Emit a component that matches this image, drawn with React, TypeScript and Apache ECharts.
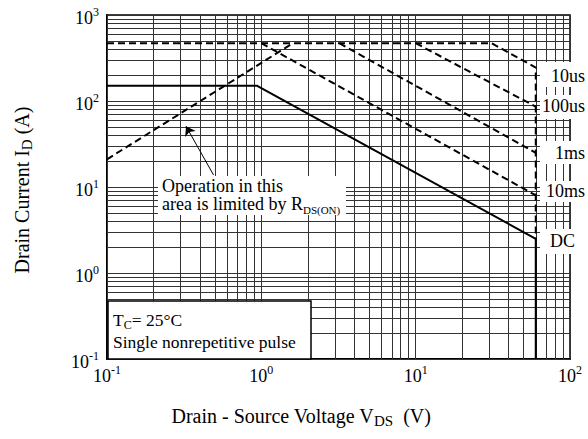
import React, { useEffect, useRef } from 'react';
import * as echarts from 'echarts';

const FONT = '"Liberation Serif", "Times New Roman", Times, serif';

// Grid-line layout (log decades and the 1..9 multipliers inside each decade)
const gridMultipliers = [1, 2, 3, 4, 5, 6, 7, 8, 9];
const xDecades = [0.1, 1, 10, 100];
const yDecades = [0.1, 1, 10, 100, 1000];

// Safe operating area boundaries [VDS (V), ID (A)]
const dcCurve = [[0.1, 150], [0.94, 150], [60, 2.5], [60, 0.1]];
const pulse10us = [[0.1, 470], [31, 470], [60, 245], [60, 2.5]];
const pulse100us = [[10, 470], [60, 86]];
const pulse1ms = [[3.2, 470], [60, 25]];
const pulse10ms = [[1, 470], [60, 8]];
const rdsOnLimit = [[0.1, 21], [1.6, 470]];
const arrowFrom = [0.49, 13.8];
const arrowTo = [0.325, 51];

const curveLabels = ['10us', '100us', '1ms', '10ms', 'DC'];

function gridValues(decades: number[]) {
  const out: number[] = [];
  for (let i = 0; i < decades.length - 1; i++) {
    for (const m of gridMultipliers) out.push(+(m * decades[i]).toPrecision(4));
  }
  out.push(decades[decades.length - 1]);
  return out;
}

const powRich = {
  b: { fontSize: 18, lineHeight: 18, padding: [6, 0, 0, 0], fontFamily: FONT, color: '#000' },
  e: { fontSize: 12, lineHeight: 14, verticalAlign: 'top', fontFamily: FONT, color: '#000' },
};
const powFmt = (v: number) => `{b|10}{e|${Math.round(Math.log10(v))}}`;

function txt(x: number, y: number, text: string, opts: any = {}) {
  const align = opts.align || 'left';
  const fs = opts.fontSize || 18;
  return {
    type: 'text',
    x,
    y,
    z: 60,
    rotation: opts.rotation || 0,
    style: {
      text,
      fill: '#000',
      font: `${fs}px ${FONT}`,
      fontSize: fs,
      fontFamily: FONT,
      align,
      textAlign: align,
      verticalAlign: 'middle',
      textVerticalAlign: 'middle',
      rich: opts.rich,
    },
  };
}

function box(x: number, y: number, w: number, h: number, stroke?: string) {
  return {
    type: 'rect',
    z: 50,
    shape: { x, y, width: w, height: h },
    style: { fill: '#fff', stroke: stroke || 'none', lineWidth: stroke ? 1.5 : 0 },
  };
}

// rich styles: main text + lowered subscript (lowered through top padding)
const subRich = (main: number, mainLH: number, sub: number, drop: number) => ({
  a: { fontSize: main, lineHeight: mainLH, fontFamily: FONT, color: '#000' },
  s: { fontSize: sub, lineHeight: sub, padding: [drop * 2, 0, 0, 0], fontFamily: FONT, color: '#000' },
});

export default function App() {
  const ref = useRef<HTMLDivElement>(null);

  useEffect(() => {
    if (!ref.current) return;
    const chart = echarts.init(ref.current, undefined, { renderer: 'svg' });

    const xGrid = gridValues(xDecades);
    const yGrid = gridValues(yDecades);

    const dashed = { color: '#000', width: 2, type: [7, 4] as any };
    const mk = (name: string, data: number[][], style: any) => ({
      name,
      type: 'line',
      data,
      symbol: 'none',
      showSymbol: false,
      z: 5,
      lineStyle: style,
      animation: false,
    });

    const option: any = {
      animation: false,
      backgroundColor: '#fff',
      grid: {
        left: 107,
        right: 18,
        top: 15,
        bottom: 80,
        show: true,
        borderColor: '#000',
        borderWidth: 1.5,
        backgroundColor: 'transparent',
      },
      xAxis: {
        type: 'log',
        logBase: 10,
        min: 0.1,
        max: 100,
        axisLine: { show: true, lineStyle: { color: '#000', width: 2 } },
        axisTick: { show: false },
        splitLine: { show: false },
        axisLabel: { margin: 5, formatter: powFmt, rich: powRich, color: '#000', fontFamily: FONT },
      },
      yAxis: {
        type: 'log',
        logBase: 10,
        min: 0.1,
        max: 1000,
        axisLine: { show: true, lineStyle: { color: '#000', width: 2 } },
        axisTick: { show: false },
        splitLine: { show: false },
        axisLabel: { margin: 8, formatter: powFmt, rich: powRich, color: '#000', fontFamily: FONT },
      },
      series: [
        {
          name: 'grid',
          type: 'line',
          data: [[0.1, 0.1]],
          symbol: 'none',
          z: 1,
          lineStyle: { opacity: 0 },
          markLine: {
            silent: true,
            symbol: ['none', 'none'],
            label: { show: false },
            lineStyle: { color: '#333', width: 1, type: 'solid' },
            emphasis: { disabled: true },
            animation: false,
            data: [
              ...xGrid.map((v) => ({ xAxis: v })),
              ...yGrid.map((v) => ({ yAxis: v })),
            ],
          },
        },
        mk('DC', dcCurve, { color: '#000', width: 2, type: 'solid' }),
        mk('10us', pulse10us, dashed),
        mk('100us', pulse100us, dashed),
        mk('1ms', pulse1ms, dashed),
        mk('10ms', pulse10ms, dashed),
        mk('RDS(ON) limit', rdsOnLimit, dashed),
        {
          name: 'arrow',
          type: 'line',
          data: [],
          z: 6,
          markLine: {
            silent: true,
            symbol: ['none', 'arrow'],
            symbolSize: 9,
            label: { show: false },
            lineStyle: { color: '#000', width: 1, type: 'solid' },
            animation: false,
            data: [[{ coord: arrowFrom }, { coord: arrowTo }]],
          },
        },
      ],
      graphic: [
        // right-hand curve labels
        box(540, 62, 48, 25),
        box(540, 95, 48, 24),
        box(540, 141, 48, 23),
        box(540, 181, 48, 21),
        box(540, 229, 48, 25),
        txt(585, 76, curveLabels[0], { align: 'right' }),
        txt(585, 106, curveLabels[1], { align: 'right' }),
        txt(585, 153, curveLabels[2], { align: 'right' }),
        txt(585, 191, curveLabels[3], { align: 'right' }),
        txt(575, 241, curveLabels[4], { align: 'right' }),
        // RDS(on) annotation
        box(158, 176, 188, 39),
        txt(162, 185.5, '{a|Operation in this}', { rich: subRich(18, 17, 11, 5.5) }),
        txt(162, 204, '{a|area is limited by R}{s|DS(ON)}', { rich: subRich(18, 17, 11, 5.5) }),
        // conditions box
        box(108, 301, 203, 58, '#000'),
        txt(113, 320, '{a|T}{s|C}{a|= 25°C}', { rich: subRich(17.5, 18, 12, 5) }),
        txt(113, 342, '{a|Single nonrepetitive pulse}', { rich: subRich(17.5, 18, 12, 5) }),
        // axis titles
        txt(301, 416, '{a|Drain - Source Voltage V}{s|DS}{a|  (V)}', { align: 'center', rich: subRich(20, 20, 15, 5) }),
        txt(22, 190, '{a|Drain Current I}{s|D}{a| (A)}', { align: 'center', rotation: Math.PI / 2, rich: subRich(20, 20, 15, 5) }),
      ],
    };

    chart.setOption(option);
    return () => chart.dispose();
  }, []);

  return (
    <div
      ref={ref}
      style={{ position: 'fixed', left: 0, top: 0, width: 588, height: 439, background: '#fff' }}
    />
  );
}
